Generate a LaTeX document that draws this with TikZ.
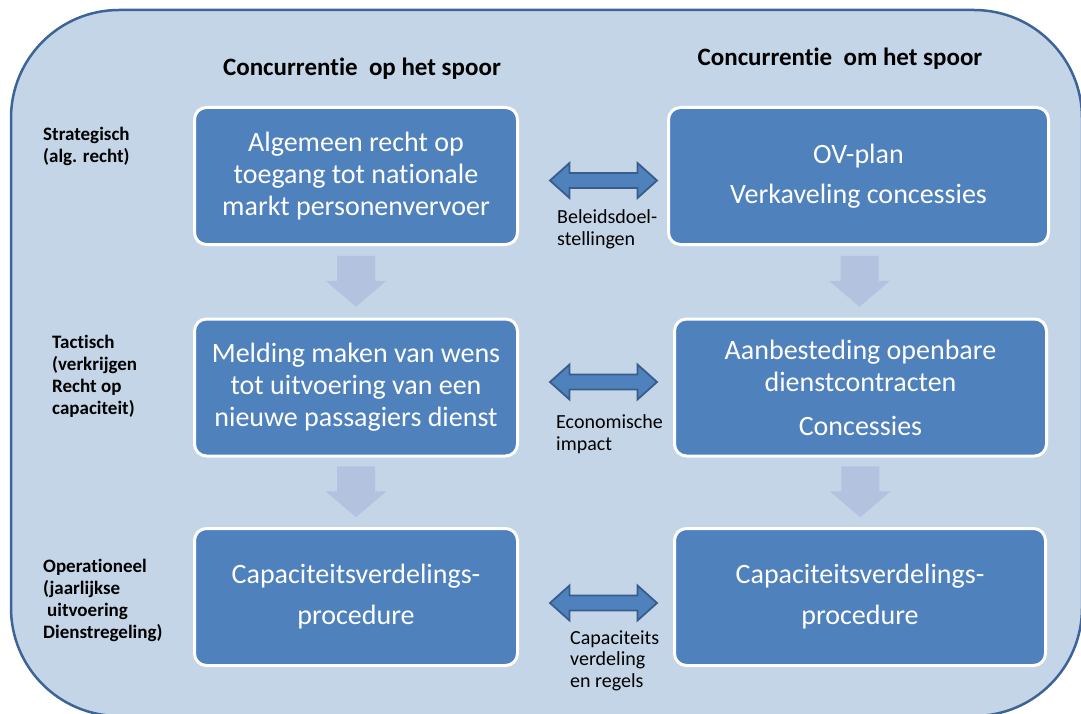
\documentclass[tikz,border=0pt]{standalone}
\usepackage{fontspec}
\setmainfont{Carlito}[Ligatures=NoCommon]
\usetikzlibrary{calc}
\definecolor{outerfill}{HTML}{C5D5E8}
\definecolor{outerline}{HTML}{3C6496}
\definecolor{boxblue}{HTML}{4F81BD}
\definecolor{arrowdark}{HTML}{385D8A}
\definecolor{arrowlight}{HTML}{B3C2DE}
\tikzset{
  frame/.style={fill=outerfill, draw=outerline, line width=2.5pt, rounded corners=108pt},
  box/.style={draw=white, line width=3pt, fill=boxblue, rounded corners=12pt, text=white,
    font=\fontsize{28}{32}\selectfont, align=center, inner sep=0pt, minimum height=137pt},
  lvl/.style={font=\bfseries\fontsize{19}{21.7}\selectfont, align=left, anchor=base west, inner sep=0pt},
  mid/.style={font=\fontsize{20}{21.5}\selectfont, align=left, anchor=base west, inner sep=0pt},
  head/.style={font=\bfseries\fontsize{25}{28}\selectfont, anchor=base, inner sep=0pt},
  downblock/.pic={\fill[arrowlight] (-19,-26) -- (19,-26) -- (19,-1) -- (30.5,-1) -- (0,25) -- (-30.5,-1) -- (-19,-1) -- cycle;},
  dblblock/.pic={\filldraw[fill=boxblue, draw=arrowdark, line width=1.8pt, line join=miter]
    (-53.5,0) -- (-34,-17.5) -- (-34,-7.5) -- (34,-7.5) -- (34,-17.5) -- (53.5,0) -- (34,17.5) -- (34,7.5) -- (-34,7.5) -- (-34,17.5) -- cycle;}
}
\begin{document}
\begin{tikzpicture}[x=1pt,y=-1pt]
\useasboundingbox (0,0) rectangle (1081,714);
\fill[white] (0,0) rectangle (1081,714);
\draw[frame] (11,10) rectangle (1082,716);

% headers
\node[head] (h1) at (362,76) {Concurrentie\ \ op het spoor};
\node[head] (h2) at (840,66) {Concurrentie\ \ om het spoor};

% boxes
\node[box, minimum width=323pt] (b1) at (356,176) {Algemeen recht op\\toegang tot nationale\\markt personenvervoer};
\node[box, minimum width=380pt] (b2) at (858.5,176) {OV-plan\\[8pt]Verkaveling concessies};
\node[box, minimum width=323pt] (b3) at (356,387.5) {Melding maken van wens\\tot uitvoering van een\\nieuwe passagiers dienst};
\node[box, minimum width=372pt] (b4) at (860.5,387.5) {Aanbesteding openbare\\dienstcontracten\\[12pt]Concessies};
\node[box, minimum width=323pt] (b5) at (356,597) {Capaciteitsverdelings-\\[9pt]procedure};
\node[box, minimum width=371pt] (b6) at (860,597) {Capaciteitsverdelings-\\[9pt]procedure};

% down block arrows
\pic at ($(b1.south)!0.5!(b3.north)$) {downblock};
\pic at ($(b3.south)!0.5!(b5.north)$) {downblock};
\pic at ($(b2.south)!0.5!(b4.north)$) {downblock};
\pic at ($(b4.south)!0.5!(b6.north)$) {downblock};

% double block arrows
\coordinate (d1) at (603.5,180.5);
\coordinate (d2) at (603.5,382);
\coordinate (d3) at (603.5,603);
\pic at (d1) {dblblock};
\pic at (d2) {dblblock};
\pic at (d3) {dblblock};

% middle labels (anchor = baseline of last line)
\node[mid] (m1) at (557,245) {Beleidsdoel-\\stellingen};
\node[mid] (m2) at (556,450) {Economische\\impact};
\node[mid] (m3) at (570,687) {Capaciteits\\verdeling\\en regels};

% level labels (anchor = baseline of last line)
\node[lvl] (l1) at (43,162.5) {Strategisch\\(alg. recht)};
\node[lvl] (l2) at (52,414) {Tactisch\\(verkrijgen\\Recht op\\capaciteit)};
\node[lvl] (l3) at (43,638) {Operationeel\\(jaarlijkse\\\hspace*{4pt}uitvoering\\Dienstregeling)};
\end{tikzpicture}
\end{document}
